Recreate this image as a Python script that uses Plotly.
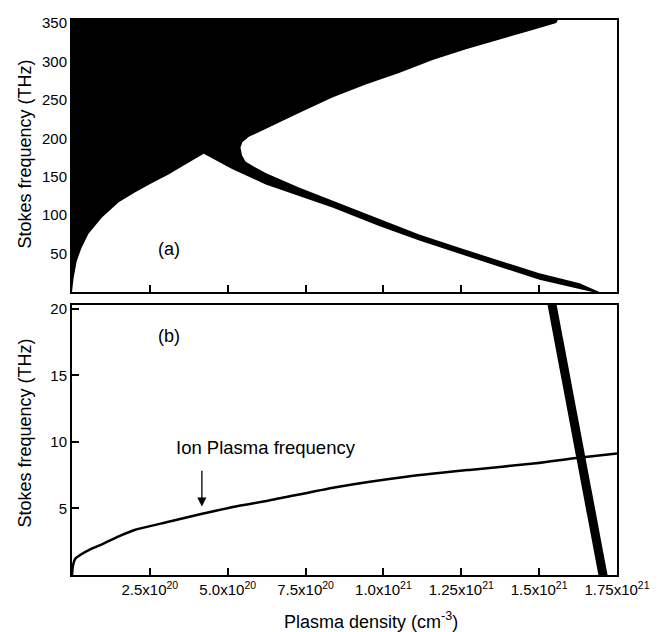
import plotly.graph_objects as go

# ---------------- data (density in units of 1e20 cm^-3, frequency in THz) -------------
# Panel (a): boundary of the black (unstable) region, traced counter-clockwise
black_x = [0.0, 0.0, 15.6, 15.55, 14.79, 13.72, 12.65, 11.58, 10.5, 9.43, 8.36, 7.29,
           6.22, 5.68, 5.47, 5.41, 5.46, 5.57, 5.85, 6.22, 7.29, 8.36, 9.43, 9.86,
           11.15, 12.44, 13.72, 15.01, 16.3, 16.94, 16.72, 15.01, 13.72, 12.44, 11.15,
           9.86, 9.43, 8.36, 7.29, 6.22, 5.14, 4.23, 3.64, 3.10, 2.57, 2.03, 1.50,
           0.96, 0.53, 0.30, 0.15, 0.05, 0.0]
black_y = [0.0, 354.0, 354.0, 350.0, 341.0, 329.0, 316.0, 302.0, 285.0, 270.0, 253.0, 233.0,
           213.0, 202.0, 195.0, 188.0, 178.0, 170.0, 163.0, 155.0, 136.0, 119.0, 102.0, 95.0,
           75.0, 57.5, 41.0, 24.5, 11.6, 0.0, 0.0, 16.0, 33.0, 50.0, 67.0,
           86.0, 93.0, 110.0, 125.0, 140.0, 160.0, 180.0, 166.0, 153.0, 142.0, 130.0, 117.0,
           97.0, 76.0, 57.0, 40.0, 18.0, 0.0]

# Panel (b): ion plasma frequency
ion_x = [0.0, 0.03, 0.1, 0.26, 0.6, 0.96, 1.5, 2.03, 3.10, 4.18, 5.25, 6.32, 8.47,
         10.61, 12.76, 14.9, 16.19, 17.5]
ion_y = [0.0, 0.7, 1.2, 1.5, 1.95, 2.3, 2.9, 3.4, 4.0, 4.6, 5.15, 5.6, 6.6,
         7.35, 7.9, 8.4, 8.8, 9.14]

# Panel (b): Stokes resonance band
band_x = [15.40, 17.09]
band_y = [20.5, -0.5]

x_tickvals = [2.5, 5.0, 7.5, 10.0, 12.5, 15.0, 17.5]
x_ticktext = ["2.5x10<sup>20</sup>", "5.0x10<sup>20</sup>", "7.5x10<sup>20</sup>",
              "1.0x10<sup>21</sup>", "1.25x10<sup>21</sup>", "1.5x10<sup>21</sup>",
              "1.75x10<sup>21</sup>"]
ya_tickvals = [50, 100, 150, 200, 250, 300, 350]
yb_tickvals = [5, 10, 15, 20]

FONT = "Liberation Sans, Arial, Helvetica, sans-serif"

fig = go.Figure()
fig.add_trace(go.Scatter(x=black_x, y=black_y, mode="lines", fill="toself",
                         fillcolor="black", line=dict(width=0, color="black"),
                         xaxis="x", yaxis="y", hoverinfo="skip", showlegend=False))
fig.add_trace(go.Scatter(x=ion_x, y=ion_y, mode="lines",
                         line=dict(width=2.5, color="black", shape="spline",
                                   smoothing=0.6),
                         xaxis="x2", yaxis="y2", showlegend=False))
fig.add_trace(go.Scatter(x=band_x, y=band_y, mode="lines",
                         line=dict(width=9, color="black"),
                         xaxis="x2", yaxis="y2", showlegend=False))

axis_common = dict(showline=True, mirror=True, linewidth=2, linecolor="black",
                   ticks="inside", ticklen=7, tickwidth=1.5, tickcolor="black",
                   showgrid=False, zeroline=False)

# page body adds an 8px margin, so the figure is 8px smaller and shifted
top_dom = [0.5098, 1.0]
bot_dom = [0.0, 0.4866]

fig.update_layout(
    width=660, height=624,
    margin=dict(l=64, r=51, t=6, b=57),
    paper_bgcolor="white", plot_bgcolor="white",
    font=dict(family=FONT, color="black"),
    xaxis=dict(domain=[0, 1], anchor="y", range=[0, 17.5], tickvals=x_tickvals,
               showticklabels=False, **axis_common),
    yaxis=dict(domain=top_dom, anchor="x", range=[0, 354], tickvals=ya_tickvals,
               tickfont=dict(size=15), **axis_common),
    xaxis2=dict(domain=[0, 1], anchor="y2", range=[0, 17.5], tickvals=x_tickvals,
                ticktext=x_ticktext, tickfont=dict(size=15), **axis_common),
    yaxis2=dict(domain=bot_dom, anchor="x2", range=[0, 20.3], tickvals=yb_tickvals,
                tickfont=dict(size=15), **axis_common),
)

annotations = [
    dict(text="(a)", x=3.1, y=56.6, xref="x", yref="y", showarrow=False,
         font=dict(size=18)),
    dict(text="(b)", x=3.1, y=17.96, xref="x2", yref="y2", showarrow=False,
         font=dict(size=18)),
    dict(text="Ion Plasma frequency", x=6.23, y=9.56, xref="x2", yref="y2",
         showarrow=False, font=dict(size=18.5)),
    dict(text="", x=4.17, y=5.15, xref="x2", yref="y2", ax=4.17, ay=7.94,
         axref="x2", ayref="y2", showarrow=True, arrowhead=2, arrowsize=1.4,
         arrowwidth=1.3, arrowcolor="black"),
    dict(text="Plasma density (cm<sup>-3</sup>)", x=0.5495, y=-0.082,
         xref="paper", yref="paper", showarrow=False, xanchor="center",
         yanchor="middle", font=dict(size=18)),
    dict(text="Stokes frequency (THz)", x=-0.0862, y=0.7576, xref="paper",
         yref="paper", showarrow=False, textangle=-90, xanchor="center",
         yanchor="middle", font=dict(size=18)),
    dict(text="Stokes frequency (THz)", x=-0.0862, y=0.2549, xref="paper",
         yref="paper", showarrow=False, textangle=-90, xanchor="center",
         yanchor="middle", font=dict(size=18)),
]
fig.update_layout(annotations=annotations)

fig.write_html("out.html")
